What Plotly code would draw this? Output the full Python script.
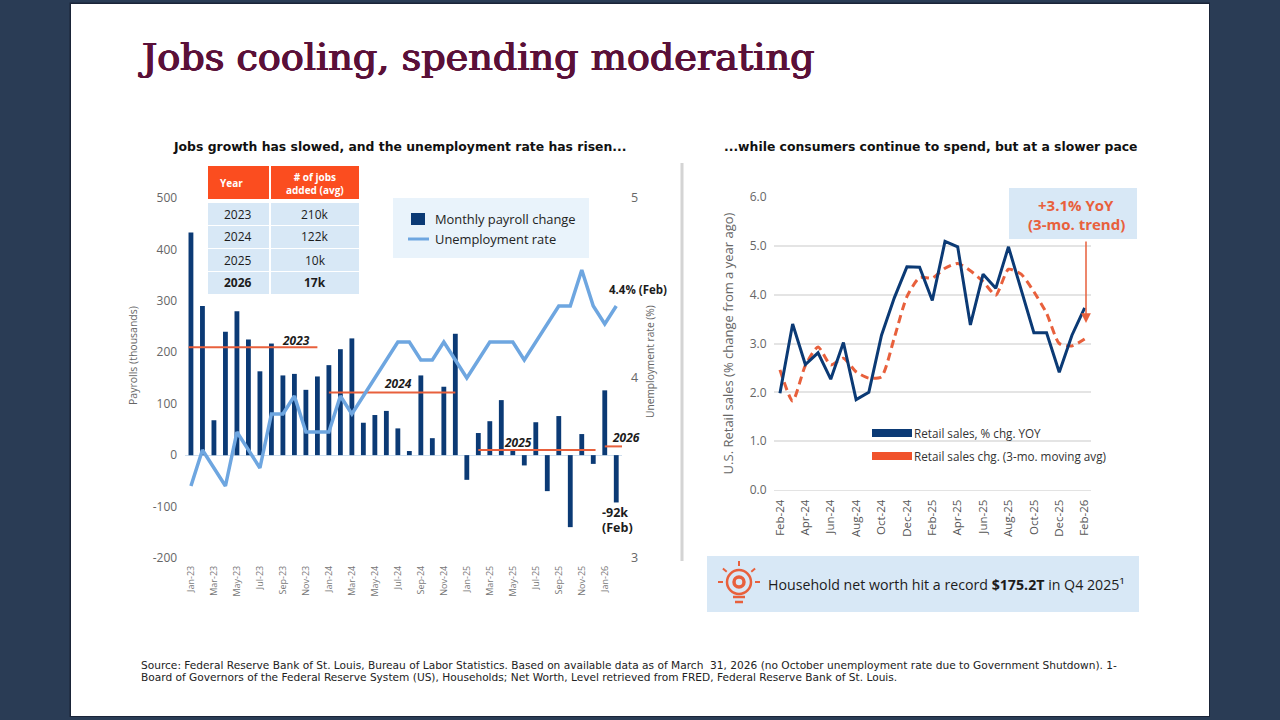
import math
import plotly.graph_objects as go

# ---------- data ----------
months_left = [f"{m}-{y}" for y in ("23", "24", "25") for m in
               ("Jan","Feb","Mar","Apr","May","Jun","Jul","Aug","Sep","Oct","Nov","Dec")] + ["Jan-26", "Feb-26"]
payrolls = [433, 290, 68, 240, 280, 225, 163, 217, 155, 158, 127, 153,
            175, 206, 227, 63, 78, 86, 52, 8, 155, 33, 133, 236,
            -48, 43, 66, 107, 12, -20, 64, -70, 76, -140, 41, -17, 126, -92]
unemployment = [3.4, 3.6, 3.5, 3.4, 3.7, 3.6, 3.5, 3.8, 3.8, 3.9, 3.7, 3.7,
                3.7, 3.9, 3.8, 3.9, 4.0, 4.1, 4.2, 4.2, 4.1, 4.1, 4.2, 4.1,
                4.0, 4.1, 4.2, 4.2, 4.2, 4.1, 4.2, 4.3, 4.4, 4.4, 4.6, 4.4, 4.3, 4.4]
payroll_ticks = [-200, -100, 0, 100, 200, 300, 400, 500]
payroll_tick_labels = ["-200", "-100", "0", "100", "200", "300", "400", "500"]
avg_labels = ["2023", "2024", "2025", "2026"]
avg_values = [210, 122, 10, 17]
avg_spans = [(-0.2, 11), (12, 23), (25, 35.2), (36, 37.7)]

table_head = ["Year", "# of jobs<br>added (avg)"]
table_years = ["2023", "2024", "2025", "2026"]
table_jobs = ["210k", "122k", "10k", "17k"]

months_right = ["Feb-24","Mar-24","Apr-24","May-24","Jun-24","Jul-24","Aug-24","Sep-24","Oct-24","Nov-24","Dec-24","Jan-25",
                "Feb-25","Mar-25","Apr-25","May-25","Jun-25","Jul-25","Aug-25","Sep-25","Oct-25","Nov-25","Dec-25","Jan-26","Feb-26"]
retail_yoy = [1.98, 3.40, 2.57, 2.81, 2.27, 3.02, 1.85, 2.00, 3.17, 3.93, 4.57, 4.56,
              3.88, 5.09, 4.98, 3.38, 4.42, 4.13, 4.98, 4.10, 3.22, 3.22, 2.41, 3.17, 3.73]
retail_ma = [2.46, 1.82, 2.55, 2.93, 2.56, 2.70, 2.42, 2.29, 2.32, 3.11, 3.96, 4.35,
             4.34, 4.54, 4.64, 4.49, 4.27, 3.99, 4.52, 4.42, 4.06, 3.62, 3.00, 2.95, 3.09]

# ---------- styles ----------
W, H = 1280, 720
NAVY = "#0b3a75"
LIGHT = "#6ea6e0"
ORANGE = "#e8603c"
RED = "#fb4d1f"
PALE = "#d8e8f6"
GREY = "#666666"
INK = "#1c1c1c"
FONT = "Open Sans"
WIDE = "DejaVu Sans"
TITLE = "#5a1038"

def px(x): return x / W
def py(y): return 1 - y / H

shapes, ann = [], []

def rect(x0, y0, x1, y1, color, layer="below"):
    shapes.append(dict(type="rect", xref="paper", yref="paper", x0=px(x0), x1=px(x1), y0=py(y0), y1=py(y1),
                       fillcolor=color, line_width=0, layer=layer))

def seg(x0, y0, x1, y1, color, width, layer="below"):
    shapes.append(dict(type="line", xref="paper", yref="paper", x0=px(x0), x1=px(x1), y0=py(y0), y1=py(y1),
                       line=dict(color=color, width=width), layer=layer))

def text(x, y, s, size=11, color=INK, anchor="left", font=FONT, angle=0, shadow=None):
    f = dict(size=size, color=color, family=font)
    if shadow:
        f["shadow"] = shadow
    ann.append(dict(xref="paper", yref="paper", x=px(x - 2 if anchor == "left" else x), y=py(y), text=s, showarrow=False,
                    xanchor=anchor, yanchor="middle", textangle=angle,
                    align="center" if anchor == "center" else "left", font=f))

# slide
rect(69.5, 2.5, 1210, 717, "#1a2438")
rect(71, 4, 1209, 716, "#ffffff")
text(138, 57, "Jobs cooling, spending moderating", 38.2, TITLE, font="DejaVu Serif",
     shadow=f"0.7px 0 0 {TITLE}, -0.7px 0 0 {TITLE}, 0 0.4px 0 {TITLE}, 0 -0.4px 0 {TITLE}")
text(399, 147, "<b>Jobs growth has slowed, and the unemployment rate has risen...</b>", 12.4, "#111111", "center", font=WIDE)
text(931, 147, "<b>...while consumers continue to spend, but at a slower pace</b>", 12.4, "#111111", "center", font=WIDE)
seg(682, 163, 682, 561, "#d4d4d4", 3)

# table
rect(208, 166, 269, 199, RED)
rect(271, 166, 359, 199, RED)
text(231, 183, "<b>" + table_head[0] + "</b>", 10, "#ffffff", "center")
text(315, 183, "<b>" + table_head[1] + "</b>", 10, "#ffffff", "center")
row_tops = [203, 226, 249, 272]
for i, (yr, jb) in enumerate(zip(table_years, table_jobs)):
    rect(208, row_tops[i], 269, row_tops[i] + 22, PALE)
    rect(271, row_tops[i], 359, row_tops[i] + 22, PALE)
    b = ("<b>", "</b>") if i == 3 else ("", "")
    text(238, row_tops[i] + 11, b[0] + yr + b[1], 12, INK, "center")
    text(315, row_tops[i] + 11, b[0] + jb + b[1], 12, INK, "center")

# left legend
rect(393, 198, 589, 258, "#e9f3fb")
rect(411, 213, 425, 225, NAVY)
seg(408, 239, 429, 239, LIGHT, 3)
text(435, 219, "Monthly payroll change", 12.9, "#222222")
text(435, 239, "Unemployment rate", 12.9, "#222222")

# left labels
text(609, 289, "<b>4.4% (Feb)</b>", 11.5, INK)
text(602, 512, "<b>-92k</b>", 12.5, INK)
text(602, 527, "<b>(Feb)</b>", 12.5, INK)
for lab, (lx, ly) in zip(avg_labels, [(296, 340), (398, 383), (518, 442), (626, 438)]):
    text(lx, ly, f"<b><i>{lab}</i></b>", 12, INK, "center")
text(133, 356, "Payrolls (thousands)", 10.5, GREY, "center", angle=-90)
text(650, 362, "Unemployment rate (%)", 10.2, GREY, "center", angle=-90)

# callout
rect(1009, 188, 1137, 239, PALE)
text(1076, 205, "<b>+3.1% YoY</b>", 15, ORANGE, "center")
text(1076, 224, "<b>(3-mo. trend)</b>", 15, ORANGE, "center")
ann.append(dict(xref="paper", yref="paper", x=px(1086), y=py(323), ax=0, ay=-83,
                text="", showarrow=True, arrowhead=2, arrowsize=1.3, arrowwidth=1.5, arrowcolor=ORANGE))

# right legend
rect(872, 429, 912, 437, NAVY)
rect(872, 452, 912, 460, "#f0522b")
text(914, 433, "Retail sales, % chg. YOY", 11.7, "#333333")
text(914, 456, "Retail sales chg. (3-mo. moving avg)", 11.7, "#333333")

# bottom band and bulb icon
rect(707, 556, 1139, 612, PALE)
cx, cy = 739, 582
for r, w in ((12, 2.5), (5, 3.5)):
    shapes.append(dict(type="circle", xref="paper", yref="paper", x0=px(cx - r), x1=px(cx + r), y0=py(cy + r), y1=py(cy - r),
                       line=dict(color="#e8603c", width=w)))
for deg in (0, 40, 90, 140, 180):
    a = math.radians(deg)
    seg(cx + 16 * math.cos(a), cy - 16 * math.sin(a), cx + 21 * math.cos(a), cy - 21 * math.sin(a), "#e8603c", 2)
seg(733, 597, 745, 597, "#e8603c", 2.5)
seg(735, 602, 743, 602, "#e8603c", 2.5)
text(768, 584, "Household net worth hit a record <b>$175.2T</b> in Q4 2025¹", 14.2, "#1c1c1c")

# footnote
text(141, 664.5, "Source: Federal Reserve Bank of St. Louis, Bureau of Labor Statistics. Based on available data as of March  31, 2026 (no October unemployment rate due to Government Shutdown). 1-", 10.6, "#222222", font=WIDE)
text(141, 677, "Board of Governors of the Federal Reserve System (US), Households; Net Worth, Level retrieved from FRED, Federal Reserve Bank of St. Louis.", 10.6, "#222222", font=WIDE)

# ---------- traces ----------
idx = list(range(len(months_left)))
fig = go.Figure()
fig.add_trace(go.Bar(x=idx, y=payrolls, name="Monthly payroll change", width=0.42, marker=dict(color=NAVY, line_width=0),
                     xaxis="x", yaxis="y"))
fig.add_trace(go.Scatter(x=idx, y=unemployment, name="Unemployment rate", mode="lines",
                         line=dict(color=LIGHT, width=3.5), xaxis="x", yaxis="y2"))
for lab, val, (a, b) in zip(avg_labels, avg_values, avg_spans):
    fig.add_trace(go.Scatter(x=[a, b], y=[val, val], name=f"{lab} average", mode="lines",
                             line=dict(color=ORANGE, width=2), xaxis="x", yaxis="y"))
fig.add_trace(go.Scatter(x=months_right, y=retail_ma, name="Retail sales chg. (3-mo. moving avg)", mode="lines",
                         line=dict(color=ORANGE, width=3, dash="8px,5px", shape="spline", smoothing=0.6),
                         xaxis="x3", yaxis="y3"))
fig.add_trace(go.Scatter(x=months_right, y=retail_yoy, name="Retail sales, % chg. YOY", mode="lines",
                         line=dict(color=NAVY, width=3), xaxis="x3", yaxis="y3"))

fig.update_layout(
    width=W, height=H, margin=dict(l=0, r=0, t=0, b=0, autoexpand=False),
    paper_bgcolor="#2a3c55", plot_bgcolor="rgba(0,0,0,0)", showlegend=False,
    font=dict(family=FONT, color=GREY), shapes=shapes, annotations=ann, bargap=0.58,
    xaxis=dict(domain=[px(185.2), px(622)], anchor="y", range=[-0.5, 37.5], tickmode="array",
               tickvals=idx[::2], ticktext=months_left[::2], tickangle=-90, tickfont=dict(size=9, color="#777777"),
               showgrid=False, showline=False, zeroline=False, ticks="", ticklabelstandoff=5),
    yaxis=dict(domain=[py(558), py(198)], range=[-200, 500], tickmode="array", tickvals=payroll_ticks,
               ticktext=payroll_tick_labels, showgrid=False, showline=False,
               zeroline=True, zerolinecolor="#cfdfee", zerolinewidth=1, tickfont=dict(size=12, color=GREY),
               ticks="", ticklabelstandoff=7),
    yaxis2=dict(domain=[py(558), py(198)], range=[3, 5], dtick=1, overlaying="y", side="right", anchor="x",
                showgrid=False, showline=False, zeroline=False, tickfont=dict(size=12.5, color=GREY), ticks="",
                ticklabelstandoff=8),
    xaxis3=dict(domain=[px(773.6), px(1091)], anchor="y3", type="category", tickmode="array",
                categoryorder="array", categoryarray=months_right, range=[-0.5, 24.5],
                tickvals=months_right[::2], ticktext=months_right[::2], tickangle=-90,
                tickfont=dict(size=11.5, color="#555555"), showgrid=False, showline=True, linecolor="#e3e3e3",
                ticks="", ticklabelstandoff=4),
    yaxis3=dict(domain=[py(490), py(197)], anchor="x3", range=[0, 6], dtick=1, tickformat=".1f", showgrid=True,
                gridcolor="#e4e4e4", gridwidth=1.5, zeroline=False, showline=False,
                tickfont=dict(size=12, color=GREY), ticks="", ticklabelstandoff=6,
                title=dict(text="U.S. Retail sales (% change from a year ago)", font=dict(size=13, color=GREY), standoff=13)),
)
fig.write_html("out.html", config={"displayModeBar": False},
               post_script="document.body.style.margin='0';document.body.style.overflow='hidden';")
